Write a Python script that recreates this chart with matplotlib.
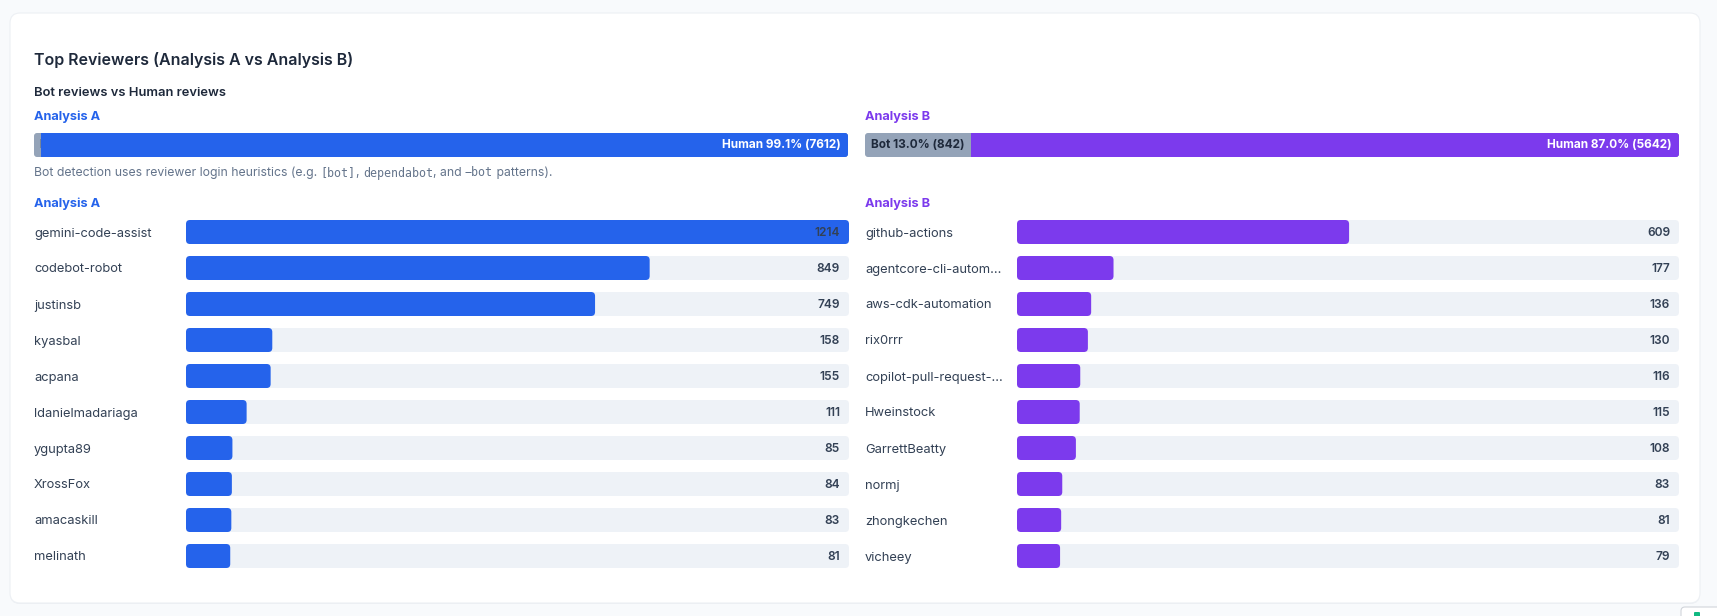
import matplotlib
matplotlib.use('Agg')
import matplotlib.pyplot as plt
from matplotlib.patches import FancyBboxPatch
from matplotlib.transforms import offset_copy, Bbox, TransformedBbox

# ---------------- data ----------------
title = "Top Reviewers (Analysis A vs Analysis B)"
subtitle = "Bot reviews vs Human reviews"
panel_names = ["Analysis A", "Analysis B"]
panel_colors = ["#2563eb", "#7c3aed"]
bot_counts = [69, 842]
human_counts = [7612, 5642]
bot_pct = [0.9, 13.0]
human_pct = [99.1, 87.0]

reviewers_a = ["gemini-code-assist", "codebot-robot", "justinsb", "kyasbal", "acpana",
               "ldanielmadariaga", "ygupta89", "XrossFox", "amacaskill", "melinath"]
counts_a = [1214, 849, 749, 158, 155, 111, 85, 84, 83, 81]
reviewers_b = ["github-actions", "agentcore-cli-autom\u2026", "aws-cdk-automation", "rix0rrr",
               "copilot-pull-request-\u2026", "Hweinstock", "GarrettBeatty", "normj",
               "zhongkechen", "vicheey"]
counts_b = [609, 177, 136, 130, 116, 115, 108, 83, 81, 79]

note_parts = [("Bot detection uses reviewer login heuristics (e.g. ", False), ("[bot]", True),
              (", ", False), ("dependabot", True), (", and ", False), ("\u2212bot", True),
              (" patterns).", False)]

# ---------------- style ----------------
W, H, DPI = 1717, 616, 100
SANS = ["Inter", "DejaVu Sans"]
MONO = ["DejaVu Sans Mono"]
DARK = "#1e293b"
LABEL = "#334155"
MUTED = "#64748b"
TRACK = "#eef2f7"
BOTGRAY = "#94a3b8"

plt.rcParams['font.family'] = SANS
fig = plt.figure(figsize=(W / DPI, H / DPI), dpi=DPI, facecolor="#f8fafc")

# background axes in pixel coordinates (layout only)
bg = fig.add_axes([0, 0, 1, 1])
bg.set_xlim(0, W)
bg.set_ylim(H, 0)
bg.axis('off')

# card + shadow
shadow = FancyBboxPatch((10, 14), 1690, 590, boxstyle="round,pad=0,rounding_size=10",
                        fc="#eceff3", ec="none", zorder=0)
bg.add_patch(shadow)
card = FancyBboxPatch((10, 13), 1690, 590, boxstyle="round,pad=0,rounding_size=10",
                      fc="white", ec="#edf0f4", lw=0.8, zorder=1)
bg.add_patch(card)

# small widget at bottom right
bg.add_patch(FancyBboxPatch((1681, 607), 40, 14, boxstyle="round,pad=0,rounding_size=4",
                            fc="white", ec="#d1d5db", lw=0.8, zorder=1))
bg.add_patch(FancyBboxPatch((1694, 612), 6, 6, boxstyle="round,pad=0,rounding_size=1",
                            fc="#10b981", ec="none", zorder=2))

bg.text(34, 60, title, fontsize=11.5, fontweight='semibold', color=DARK, va='center', ha='left', zorder=3)
bg.text(34, 93, subtitle, fontsize=9.3, fontweight='semibold', color=DARK, va='center', ha='left', zorder=3)

panel_x = [34, 865]
for px, name, col in zip(panel_x, panel_names, panel_colors):
    bg.text(px, 117, name, fontsize=9.2, fontweight='bold', color=col, va='center', ha='left', zorder=3)
    bg.text(px, 204, name, fontsize=9.2, fontweight='bold', color=col, va='center', ha='left', zorder=3)

# note with monospace fragments
fig.canvas.draw()
renderer = fig.canvas.get_renderer()
x = 34
for txt, mono in note_parts:
    t = bg.text(x, 173, txt, fontsize=8.8 if not mono else 8.4, color=MUTED, va='center', ha='left',
                family=MONO if mono else SANS, zorder=3)
    ext = t.get_window_extent(renderer)
    x += ext.width


def px_axes(x0, y0, x1, y1):
    ax = fig.add_axes([x0 / W, 1 - y1 / H, (x1 - x0) / W, (y1 - y0) / H])
    ax.set_facecolor('none')
    for s in ax.spines.values():
        s.set_visible(False)
    return ax


def rounded(ax, bars, r_px, **kw):
    pos = ax.get_position()
    xl = ax.get_xlim()
    yl = ax.get_ylim()
    xupp = abs(xl[1] - xl[0]) / (pos.width * W)
    yupp = abs(yl[1] - yl[0]) / (pos.height * H)
    out = []
    for b in bars:
        b.set_visible(False)
        p = FancyBboxPatch((b.get_x(), b.get_y()), b.get_width(), b.get_height(),
                           boxstyle="round,pad=0,rounding_size=%f" % (r_px * xupp),
                           mutation_aspect=yupp / xupp, fc=b.get_facecolor(), ec='none',
                           zorder=b.get_zorder())
        ax.add_patch(p)
        out.append(p)
    return out


# ---------------- bot vs human bars ----------------
split_spans = [(34, 848), (865, 1679)]
for (x0, x1), bot, hum, bp, hp, col in zip(split_spans, bot_counts, human_counts, bot_pct, human_pct, panel_colors):
    ax = px_axes(x0, 133, x1, 157)
    total = bot + hum
    ax.set_xlim(0, total)
    ax.set_ylim(-0.5, 0.5)
    ax.set_xticks([])
    ax.set_yticks([])
    full = ax.barh([0], [total], height=1, color=BOTGRAY, zorder=1)
    fp = rounded(ax, full, 3)[0]
    hb = ax.barh([0], [hum], left=[bot], height=1, color=col, zorder=2)
    for b in hb:
        b.set_clip_path(fp)
    ax.text(total, 0, "Human %.1f%% (%d)" % (hp, hum),
            transform=offset_copy(ax.transData, fig, x=-7, y=0, units='dots'),
            ha='right', va='center', fontsize=8.5, fontweight='bold', color='white', zorder=3)
    bt = ax.text(0, 0, "Bot %.1f%% (%d)" % (bp, bot),
                 transform=offset_copy(ax.transData, fig, x=6, y=0, units='dots'),
                 ha='left', va='center', fontsize=8.5, fontweight='bold', color=DARK, zorder=3)
    bt.set_clip_box(TransformedBbox(Bbox([[0, -0.5], [bot, 0.5]]), ax.transData))
    bt.set_clip_on(True)

# ---------------- top reviewers ----------------
scale_max = max(counts_a + counts_b)
track_spans = [(186, 849, 34), (1017, 1679, 865)]
for (x0, x1, lx), names, vals, col in zip(track_spans, [reviewers_a, reviewers_b], [counts_a, counts_b], panel_colors):
    n = len(vals)
    ax = px_axes(x0, 214, x1, 574)
    ax.set_xlim(0, scale_max)
    ax.set_ylim(n - 0.5, -0.5)
    ax.set_xticks([])
    ypos = list(range(n))
    tracks = ax.barh(ypos, [scale_max] * n, height=24 / 36, color=TRACK, zorder=1)
    rounded(ax, tracks, 4)
    bars = ax.barh(ypos, vals, height=24 / 36, color=col, zorder=2)
    rounded(ax, bars, 4)
    ax.set_yticks(ypos, names)
    ax.tick_params(axis='y', length=0, pad=(x0 - lx) * 72 / DPI, labelsize=9.3, labelcolor=LABEL)
    for lab in ax.get_yticklabels():
        lab.set_ha('left')
    tr = offset_copy(ax.transData, fig, x=-9, y=-1, units='dots')
    for yi, v in zip(ypos, vals):
        ax.text(scale_max, yi, str(v), transform=tr, ha='right', va='center',
                fontsize=8.6, fontweight='semibold', color=LABEL, zorder=3)

fig.savefig("out.png", dpi=DPI, facecolor=fig.get_facecolor())
